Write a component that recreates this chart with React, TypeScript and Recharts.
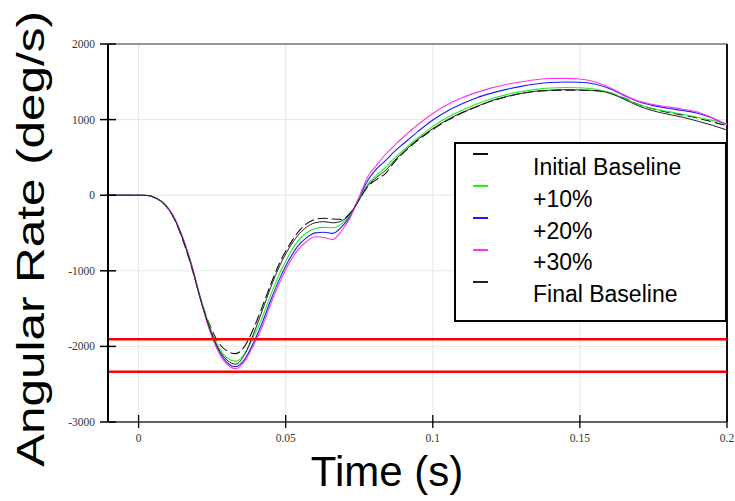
import React from 'react';
import { LineChart, Line, XAxis, YAxis, CartesianGrid, ReferenceLine, Legend } from 'recharts';

const time = [-0.0104, -0.005, 0, 0.003, 0.006, 0.009, 0.012, 0.015, 0.018, 0.021, 0.024, 0.027, 0.03, 0.033, 0.036, 0.039, 0.042, 0.045, 0.048, 0.051, 0.054, 0.057, 0.06, 0.063, 0.066, 0.069, 0.072, 0.075, 0.078, 0.081, 0.084, 0.087, 0.09, 0.095, 0.1, 0.105, 0.11, 0.115, 0.12, 0.125, 0.13, 0.135, 0.14, 0.145, 0.15, 0.155, 0.16, 0.165, 0.17, 0.175, 0.18, 0.185, 0.19, 0.195, 0.2];

const initialBaseline = [0, 0, 0, -3, -42, -130, -305, -590, -950, -1360, -1700, -1940, -2060, -2095, -2000, -1770, -1480, -1170, -890, -675, -500, -380, -320, -305, -315, -320, -230, -60, 120, 210, 290, 440, 560, 730, 870, 990, 1090, 1170, 1245, 1300, 1345, 1375, 1385, 1390, 1388, 1382, 1355, 1285, 1200, 1140, 1095, 1060, 1020, 970, 920];
const plus10 = [0, 0, 0, -3, -42, -125, -295, -565, -920, -1350, -1720, -1990, -2150, -2195, -2100, -1880, -1620, -1310, -1030, -800, -615, -500, -440, -425, -430, -380, -250, -40, 150, 270, 370, 490, 595, 760, 910, 1030, 1125, 1205, 1275, 1330, 1370, 1400, 1418, 1425, 1422, 1405, 1360, 1280, 1200, 1145, 1105, 1070, 1030, 990, 945];
const plus20 = [0, 0, 0, -3, -40, -122, -292, -565, -925, -1370, -1760, -2045, -2210, -2268, -2175, -1955, -1690, -1380, -1100, -865, -680, -565, -498, -490, -505, -420, -270, -30, 200, 350, 460, 580, 680, 845, 995, 1115, 1210, 1290, 1350, 1400, 1440, 1470, 1490, 1498, 1495, 1470, 1410, 1320, 1235, 1185, 1150, 1120, 1085, 1020, 930];
const plus30 = [0, 0, 0, -3, -40, -120, -290, -560, -920, -1370, -1770, -2060, -2235, -2295, -2200, -1990, -1740, -1430, -1150, -910, -730, -615, -550, -560, -585, -470, -290, -20, 250, 400, 545, 660, 770, 935, 1080, 1200, 1290, 1360, 1420, 1465, 1500, 1528, 1543, 1545, 1537, 1500, 1425, 1330, 1245, 1198, 1168, 1138, 1100, 1025, 930];
const finalBaseline = [0, 0, 0, -3, -42, -128, -300, -580, -940, -1370, -1740, -2020, -2180, -2235, -2110, -1840, -1530, -1210, -930, -710, -540, -425, -365, -350, -365, -340, -240, -60, 130, 240, 330, 460, 570, 740, 880, 1000, 1095, 1175, 1250, 1305, 1345, 1375, 1390, 1395, 1392, 1385, 1350, 1270, 1180, 1115, 1070, 1030, 980, 925, 862];

const seriesNames = ['Initial Baseline', '+10%', '+20%', '+30%', 'Final Baseline'];
const xTicks = [0, 0.05, 0.1, 0.15, 0.2];
const yTicks = [-3000, -2000, -1000, 0, 1000, 2000];
const limitLines = [-1905, -2335];

const data = time.map((t, i) => ({
  t,
  initial: initialBaseline[i],
  p10: plus10[i],
  p20: plus20[i],
  p30: plus30[i],
  final: finalBaseline[i],
}));

const tickFont = { fontFamily: '"Liberation Serif", serif', fontSize: 11.5, fill: '#333' };

const YTick = (props: any) => {
  const { x, y, payload } = props;
  return (
    <g>
      <line x1={x - 8} x2={x + 8} y1={y} y2={y} stroke="#000" strokeWidth={1.5} />
      <text x={x - 13} y={y} textAnchor="end" dominantBaseline="central" {...tickFont}>
        {payload.value}
      </text>
    </g>
  );
};

const XTick = (props: any) => {
  const { x, y, payload } = props;
  return (
    <g>
      <line x1={x} x2={x} y1={y - 7} y2={y + 6} stroke="#000" strokeWidth={1.3} />
      <text x={x} y={y + 16} textAnchor="middle" dominantBaseline="central" {...tickFont}>
        {payload.value}
      </text>
    </g>
  );
};

const renderLegend = (props: any) => {
  const items = [...(props.payload || [])].sort(
    (a: any, b: any) => seriesNames.indexOf(a.value) - seriesNames.indexOf(b.value)
  );
  return (
    <div
      style={{
        width: 273,
        height: 180,
        boxSizing: 'border-box',
        border: '2px solid #000',
        background: '#fff',
        position: 'relative',
        fontFamily: '"Liberation Sans", Arial, sans-serif',
      }}
    >
      {items.map((e: any, i: number) => (
        <React.Fragment key={i}>
          <div
            style={{
              position: 'absolute',
              left: 17,
              top: 9 + 32 * i,
              width: 15,
              height: 0,
              borderTop: `2px solid ${e.color}`,
            }}
          />
          <div
            style={{
              position: 'absolute',
              left: 77,
              top: 12 + 31.75 * i,
              fontSize: 23,
              lineHeight: '23px',
              color: '#000',
              whiteSpace: 'nowrap',
            }}
          >
            {e.value}
          </div>
        </React.Fragment>
      ))}
    </div>
  );
};

const YTitle = () => (
  <text
    x={0}
    y={9.6}
    transform="translate(34,239) rotate(-90) scale(1.3,1)"
    textAnchor="middle"
    fontFamily='"Liberation Sans", Arial, sans-serif'
    fontSize={38}
    fill="#000"
  >
    Angular Rate (deg/s)
  </text>
);

const XTitle = () => (
  <text
    x={387}
    y={486}
    textAnchor="middle"
    fontFamily='"Liberation Sans", Arial, sans-serif'
    fontSize={42}
    fill="#000"
  >
    Time (s)
  </text>
);

export default function App() {
  return (
    <div style={{ position: 'absolute', left: 0, top: 0, width: 735, height: 501, background: '#fff' }}>
      <LineChart width={735} height={501} data={data} margin={{ top: 44, right: 8, bottom: 0, left: 0 }}>
        <CartesianGrid stroke="#e6e6e6" strokeWidth={1} />
        <XAxis
          dataKey="t"
          type="number"
          domain={[-0.0104, 0.2]}
          ticks={xTicks}
          interval={0}
          allowDataOverflow
          height={79}
          tickSize={0}
          tickMargin={0}
          tickLine={false}
          axisLine={{ stroke: '#333', strokeWidth: 1.5 }}
          tick={XTick}
          label={{ content: () => <XTitle /> }}
        />
        <YAxis
          type="number"
          domain={[-3000, 2000]}
          ticks={yTicks}
          interval={0}
          allowDataOverflow
          width={108}
          tickSize={0}
          tickMargin={0}
          tickLine={false}
          axisLine={{ stroke: '#000', strokeWidth: 2 }}
          tick={YTick}
          label={{ content: () => <YTitle /> }}
        />
        <ReferenceLine y={2000} stroke="#777" strokeWidth={1.5} />
        <ReferenceLine x={0.2} stroke="#111" strokeWidth={2} />
        <Line dataKey="initial" name={seriesNames[0]} stroke="#111" strokeWidth={1.1} strokeDasharray="10 4" dot={false} type="monotone" isAnimationActive={false} />
        <Line dataKey="p10" name={seriesNames[1]} stroke="#22ee22" strokeWidth={1.1} dot={false} type="monotone" isAnimationActive={false} />
        <Line dataKey="p20" name={seriesNames[2]} stroke="#1a1aff" strokeWidth={1.1} dot={false} type="monotone" isAnimationActive={false} />
        <Line dataKey="p30" name={seriesNames[3]} stroke="#ff33ee" strokeWidth={1.1} dot={false} type="monotone" isAnimationActive={false} />
        <Line dataKey="final" name={seriesNames[4]} stroke="#222" strokeWidth={1} dot={false} type="monotone" isAnimationActive={false} />
        {limitLines.map((v) => (
          <ReferenceLine key={v} y={v} stroke="#ff0000" strokeWidth={2.5} />
        ))}
        <Legend
          layout="vertical"
          verticalAlign="middle"
          align="center"
          itemSorter={null as any}
          content={renderLegend}
          wrapperStyle={{ left: 454, top: 142, width: 273, height: 180 }}
        />
      </LineChart>
    </div>
  );
}
